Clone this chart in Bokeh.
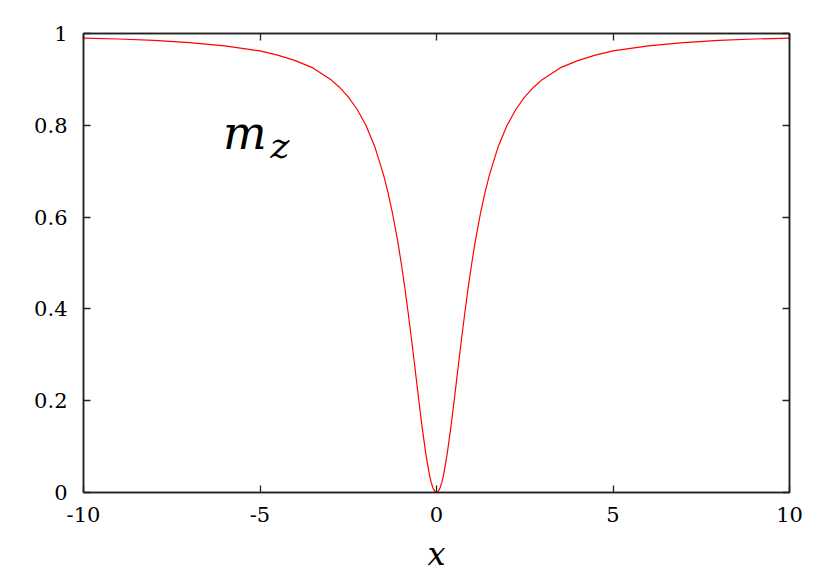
from bokeh.plotting import figure
from bokeh.models import Range1d, LinearAxis, FixedTicker
from bokeh.core.properties import value
from bokeh.embed import file_html
from bokeh.resources import INLINE

# Values
x_vals = [-10, -9, -8, -7, -6, -5, -4.5, -4, -3.5, -3, -2.75, -2.5, -2.25, -2, -1.75, -1.5,
          -1.375, -1.25, -1.1, -1, -0.9, -0.8, -0.7, -0.6, -0.5, -0.4, -0.3, -0.2, -0.15, -0.1, -0.05,
          0,
          0.05, 0.1, 0.15, 0.2, 0.3, 0.4, 0.5, 0.6, 0.7, 0.8, 0.9, 1, 1.1, 1.25, 1.375,
          1.5, 1.75, 2, 2.25, 2.5, 2.75, 3, 3.5, 4, 4.5, 5, 6, 7, 8, 9, 10]
mz_vals = [0.990, 0.988, 0.985, 0.980, 0.973, 0.962, 0.953, 0.941, 0.925, 0.900, 0.883, 0.862, 0.835,
           0.800, 0.754, 0.692, 0.654, 0.610, 0.548, 0.500, 0.448, 0.390, 0.329, 0.265, 0.200, 0.138,
           0.083, 0.038, 0.022, 0.0099, 0.0025,
           0.0,
           0.0025, 0.0099, 0.022, 0.038, 0.083, 0.138, 0.200, 0.265, 0.329, 0.390, 0.448, 0.500,
           0.548, 0.610, 0.654, 0.692, 0.754, 0.800, 0.835, 0.862, 0.883, 0.900, 0.925, 0.941, 0.953,
           0.962, 0.973, 0.980, 0.985, 0.988, 0.990]

x_ticks = [-10, -5, 0, 5, 10]
x_tick_labels = ["-10", "-5", "0", "5", "10"]
y_ticks = [0, 0.2, 0.4, 0.6, 0.8, 1]
y_tick_labels = ["0", "0.2", "0.4", "0.6", "0.8", "1"]

FONT = "DejaVu Serif"
AXC = "#222222"

p = figure(width=830, height=581, output_backend="svg", toolbar_location=None,
           x_range=Range1d(-10, 10), y_range=Range1d(0, 1),
           min_border_left=83, min_border_right=41, min_border_top=33, min_border_bottom=89)
p.background_fill_color = "white"
p.border_fill_color = "white"
p.grid.visible = False
p.outline_line_color = AXC
p.outline_line_width = 1.5

p.line(x_vals, mz_vals, line_color="#ff0000", line_width=1.2)

for ax, ticks, labels in ((p.xaxis[0], x_ticks, x_tick_labels), (p.yaxis[0], y_ticks, y_tick_labels)):
    ax.ticker = FixedTicker(ticks=ticks)
    ax.major_label_overrides = {t: l for t, l in zip(ticks, labels)}
    ax.minor_tick_line_color = None
    ax.major_tick_in = 7
    ax.major_tick_out = 0
    ax.major_tick_line_color = AXC
    ax.major_tick_line_width = 1.3
    ax.axis_line_color = AXC
    ax.axis_line_width = 1.5
    ax.major_label_text_font = FONT
    ax.major_label_text_font_size = "21px"
    ax.major_label_text_color = "black"

p.xaxis[0].major_label_standoff = 14
p.yaxis[0].major_label_standoff = 16
p.xaxis[0].axis_label = "x"
p.xaxis[0].axis_label_text_font = FONT
p.xaxis[0].axis_label_text_font_style = "italic"
p.xaxis[0].axis_label_text_font_size = "32px"
p.xaxis[0].axis_label_standoff = 10
p.xaxis[0].axis_label_text_color = "black"

# mirrored ticks on top and right
top = LinearAxis(ticker=FixedTicker(ticks=x_ticks))
right = LinearAxis(ticker=FixedTicker(ticks=y_ticks))
for ax in (top, right):
    ax.minor_tick_line_color = None
    ax.major_tick_in = 7
    ax.major_tick_out = 0
    ax.major_tick_line_color = AXC
    ax.major_tick_line_width = 1.3
    ax.axis_line_color = AXC
    ax.axis_line_width = 1.5
    ax.major_label_text_color = None
    ax.major_label_text_font_size = "10px"
    ax.major_label_standoff = 0
p.add_layout(top, "above")
p.add_layout(right, "right")

# m_z annotation
p.text(x=[-6.05], y=[0.784], text=["m"], text_font=value(FONT), text_font_style="italic",
       text_font_size="46px", text_baseline="alphabetic", text_align="left", text_color="black")
p.text(x=[-4.70], y=[0.757], text=["z"], text_font=value(FONT), text_font_style="italic",
       text_font_size="36px", text_baseline="alphabetic", text_align="left", text_color="black")

open("out.html", "w").write(file_html(p, INLINE))
